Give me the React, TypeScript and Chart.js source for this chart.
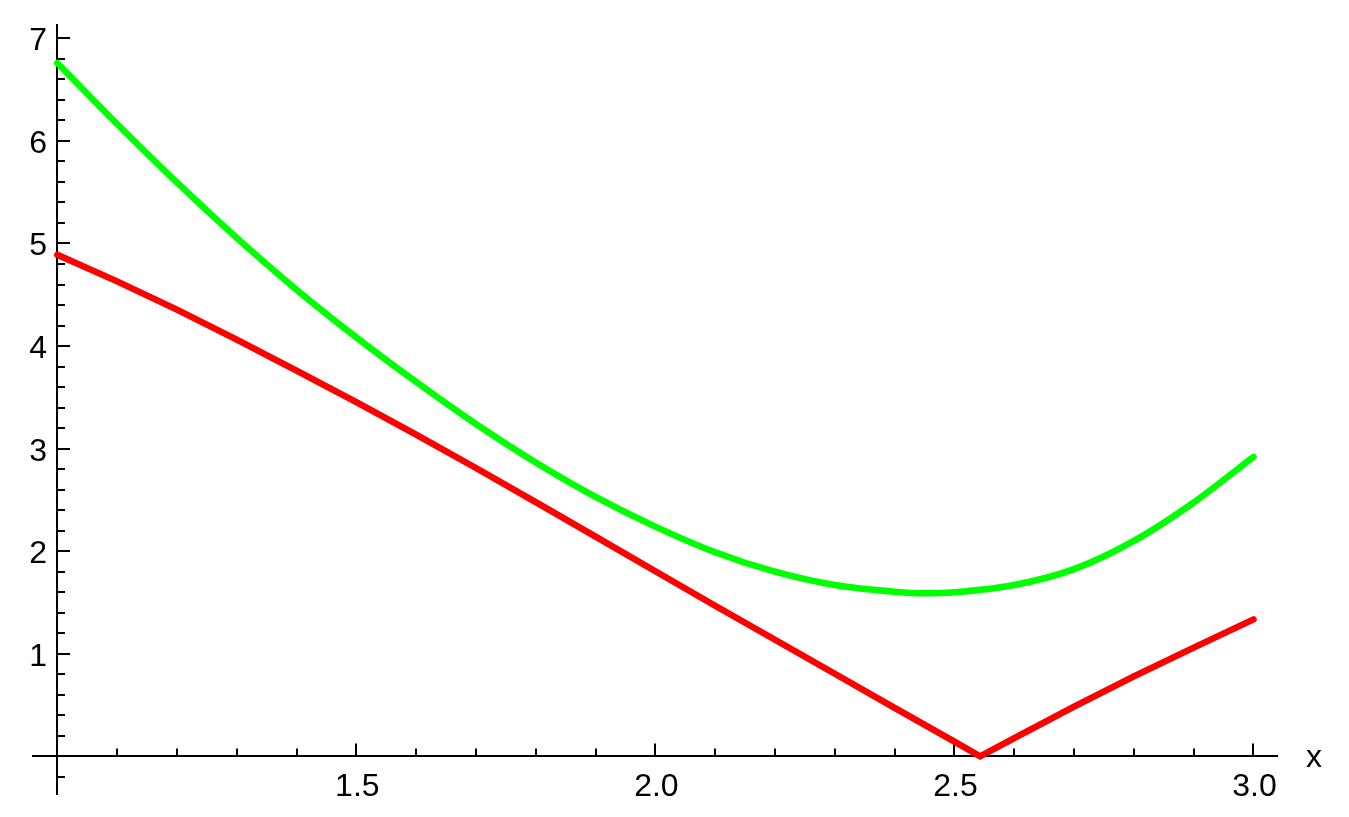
import React, { useEffect, useRef } from "react";
import { Chart, registerables } from "chart.js";

Chart.register(...registerables);

// ---- data ----
const greenX = [1.0, 1.1, 1.2, 1.3, 1.4, 1.5, 1.6, 1.7, 1.8, 1.9, 2.0, 2.1, 2.2, 2.3, 2.4, 2.45, 2.5, 2.6, 2.7, 2.8, 2.9, 3.0];
const greenY = [6.76, 6.165, 5.595, 5.055, 4.55, 4.085, 3.65, 3.24, 2.865, 2.53, 2.24, 1.99, 1.8, 1.67, 1.605, 1.59, 1.6, 1.67, 1.825, 2.1, 2.475, 2.92];

const redX = [1.0, 1.1, 1.2, 1.3, 1.4, 1.5, 1.6, 1.7, 1.8, 1.9, 2.0, 2.1, 2.2, 2.3, 2.4, 2.5, 2.543, 2.6, 2.7, 2.8, 2.9, 3.0];
const redY = [4.89, 4.631, 4.355, 4.063, 3.761, 3.454, 3.137, 2.811, 2.479, 2.142, 1.805, 1.468, 1.137, 0.805, 0.473, 0.144, 0.0, 0.177, 0.485, 0.78, 1.06, 1.335];

// ---- axes ----
const xRange = [0.9577, 3.041];
const yRange = [-0.377, 7.14];
const axisCrossX = 1.0;
const axisCrossY = 0.0;

const xMajorTicks = [1.5, 2.0, 2.5, 3.0];
const xTickLabels = ["1.5", "2.0", "2.5", "3.0"];
const xMinorTicks = [1.1, 1.2, 1.3, 1.4, 1.6, 1.7, 1.8, 1.9, 2.1, 2.2, 2.3, 2.4, 2.6, 2.7, 2.8, 2.9];

const yMajorTicks = [1, 2, 3, 4, 5, 6, 7];
const yTickLabels = ["1", "2", "3", "4", "5", "6", "7"];
const yMinorTicks = [
  -0.2, 0.2, 0.4, 0.6, 0.8, 1.2, 1.4, 1.6, 1.8, 2.2, 2.4, 2.6, 2.8, 3.2, 3.4, 3.6, 3.8,
  4.2, 4.4, 4.6, 4.8, 5.2, 5.4, 5.6, 5.8, 6.2, 6.4, 6.6, 6.8,
];
const xAxisLabel = "x";

const FONT = '32px "Liberation Sans", Arial, sans-serif';

const axesPlugin = {
  id: "mathAxes",
  beforeDatasetsDraw(chart: any) {
    const { ctx, chartArea } = chart;
    const xs = chart.scales.x;
    const ys = chart.scales.y;
    const x0 = Math.round(xs.getPixelForValue(axisCrossX));
    const y0 = Math.round(ys.getPixelForValue(axisCrossY));
    ctx.save();
    ctx.strokeStyle = "#000";
    ctx.fillStyle = "#000";
    ctx.lineWidth = 2;
    ctx.lineCap = "butt";

    // axis lines
    ctx.beginPath();
    ctx.moveTo(chartArea.left, y0);
    ctx.lineTo(chartArea.right, y0);
    ctx.moveTo(x0, chartArea.top);
    ctx.lineTo(x0, chartArea.bottom);
    ctx.stroke();

    // x ticks (pointing up)
    ctx.beginPath();
    xMajorTicks.forEach((v) => {
      const px = Math.round(xs.getPixelForValue(v));
      ctx.moveTo(px, y0);
      ctx.lineTo(px, y0 - 12.5);
    });
    xMinorTicks.forEach((v) => {
      const px = Math.round(xs.getPixelForValue(v));
      ctx.moveTo(px, y0);
      ctx.lineTo(px, y0 - 7.5);
    });
    // y ticks (pointing right)
    yMajorTicks.forEach((v) => {
      const py = Math.round(ys.getPixelForValue(v));
      ctx.moveTo(x0, py);
      ctx.lineTo(x0 + 13, py);
    });
    yMinorTicks.forEach((v) => {
      const py = Math.round(ys.getPixelForValue(v));
      ctx.moveTo(x0, py);
      ctx.lineTo(x0 + 8, py);
    });
    ctx.stroke();

    // labels
    ctx.font = FONT;
    ctx.textBaseline = "alphabetic";
    ctx.textAlign = "center";
    xMajorTicks.forEach((v, i) => {
      const px = xs.getPixelForValue(v);
      ctx.fillText(xTickLabels[i], px + 1, y0 + 40);
    });
    ctx.textAlign = "right";
    yMajorTicks.forEach((v, i) => {
      const py = ys.getPixelForValue(v);
      ctx.fillText(yTickLabels[i], x0 - 10, py + 12);
    });
    ctx.textAlign = "left";
    ctx.fillText(xAxisLabel, chartArea.right + 28, y0 + 11);
    ctx.restore();
  },
};

export default function App() {
  const canvasRef = useRef<HTMLCanvasElement | null>(null);

  useEffect(() => {
    if (!canvasRef.current) return;
    const chart = new Chart(canvasRef.current, {
      type: "line",
      data: {
        datasets: [
          {
            label: "green",
            data: greenX.map((x, i) => ({ x, y: greenY[i] })),
            borderColor: "#00ff00",
            backgroundColor: "#00ff00",
            borderWidth: 6.5,
            pointRadius: 0,
            fill: false,
            cubicInterpolationMode: "monotone",
            borderCapStyle: "round",
          },
          {
            label: "red",
            data: redX.map((x, i) => ({ x, y: redY[i] })),
            borderColor: "#ff0000",
            backgroundColor: "#ff0000",
            borderWidth: 6.5,
            pointRadius: 0,
            fill: false,
            tension: 0,
            borderCapStyle: "round",
            borderJoinStyle: "miter",
          },
        ],
      },
      options: {
        animation: false,
        responsive: false,
        events: [],
        layout: { padding: { left: 32, right: 71, top: 24, bottom: 22 } },
        plugins: { legend: { display: false }, tooltip: { enabled: false } },
        scales: {
          x: { type: "linear", min: xRange[0], max: xRange[1], display: false },
          y: { type: "linear", min: yRange[0], max: yRange[1], display: false },
        },
      },
      plugins: [axesPlugin],
    } as any);
    return () => chart.destroy();
  }, []);

  return (
    <div style={{ position: "absolute", left: 0, top: 0, width: 1349, height: 817, background: "#fff" }}>
      <canvas ref={canvasRef} width={1349} height={817} style={{ display: "block" }} />
    </div>
  );
}
